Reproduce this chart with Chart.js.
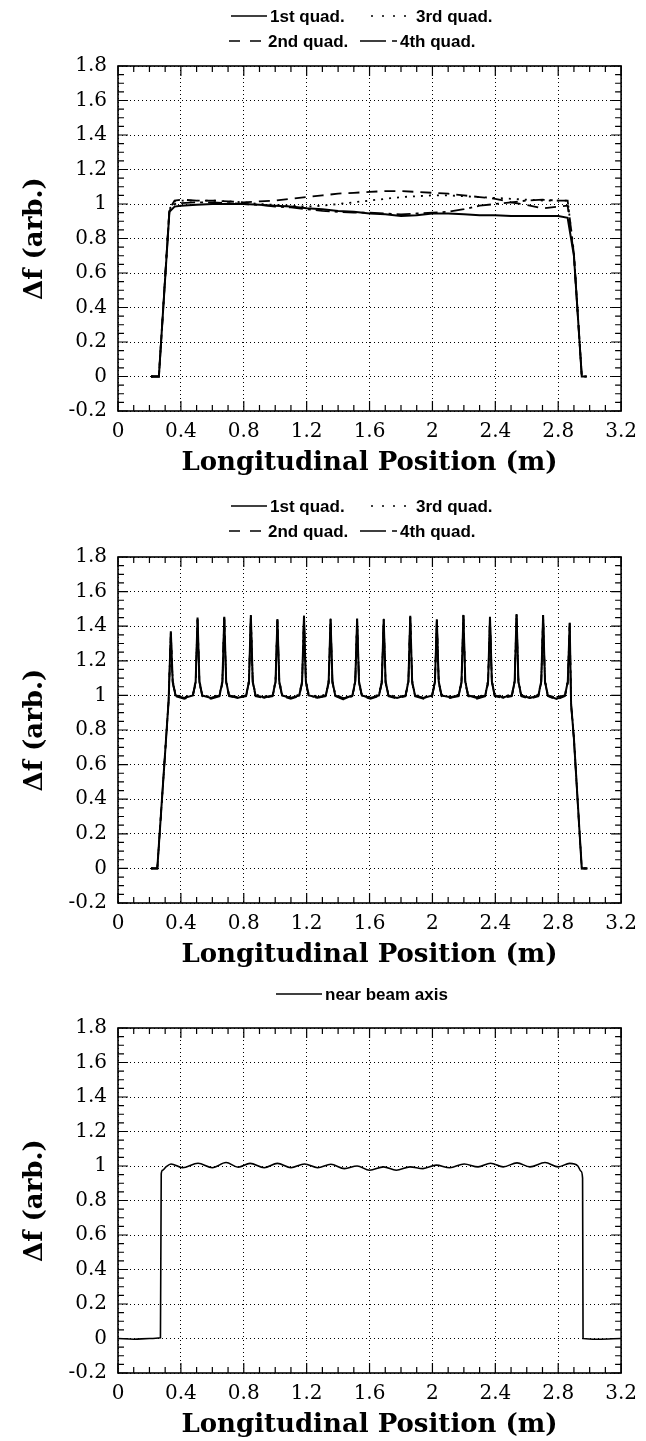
<!DOCTYPE html>
<html>
<head>
<meta charset="utf-8">
<script src="https://cdn.jsdelivr.net/npm/chart.js@4.4.1/dist/chart.umd.min.js"></script>
<style>
  html, body { margin: 0; padding: 0; background: #fff; }
  body { width: 646px; height: 1441px; position: relative; overflow: hidden; }
  .panel { position: absolute; left: 0; width: 646px; }
</style>
</head>
<body>
<div class="panel" style="top:0;height:490px"><canvas id="c1"></canvas></div>
<div class="panel" style="top:490px;height:482px"><canvas id="c2"></canvas></div>
<div class="panel" style="top:972px;height:469px"><canvas id="c3"></canvas></div>
<script>
const xTicks = [0, 0.4, 0.8, 1.2, 1.6, 2, 2.4, 2.8, 3.2];
const yTicks = [-0.2, 0, 0.2, 0.4, 0.6, 0.8, 1, 1.2, 1.4, 1.6, 1.8];

// top panel - four quadrants, smooth profile
const posTop = [0.21, 0.26, 0.327, 0.36, 0.4, 0.5, 0.6, 0.7, 0.8, 0.9, 1.0, 1.1, 1.2, 1.3, 1.4, 1.5,
  1.6, 1.7, 1.8, 1.9, 2.0, 2.1, 2.2, 2.3, 2.4, 2.5, 2.6, 2.7, 2.8, 2.86, 2.9, 2.95, 2.98];
const top1st = [0, 0, 0.955, 0.985, 0.99, 0.995, 1.0, 1.0, 1.0, 0.995, 0.99, 0.985, 0.975, 0.97, 0.96, 0.955,
  0.945, 0.94, 0.93, 0.935, 0.945, 0.945, 0.94, 0.935, 0.935, 0.93, 0.93, 0.93, 0.93, 0.92, 0.7, 0, 0];
const top2nd = [0, 0, 0.97, 1.02, 1.025, 1.02, 1.02, 1.015, 1.01, 1.015, 1.02, 1.03, 1.04, 1.05, 1.06, 1.065,
  1.07, 1.075, 1.075, 1.07, 1.065, 1.06, 1.05, 1.04, 1.03, 1.01, 0.995, 0.975, 0.985, 0.99, 0.7, 0, 0];
const top3rd = [0, 0, 0.97, 1.015, 1.02, 1.02, 1.02, 1.015, 1.01, 1.0, 0.995, 0.99, 0.985, 0.99, 1.0, 1.01,
  1.02, 1.03, 1.04, 1.045, 1.05, 1.05, 1.045, 1.04, 1.035, 1.03, 1.025, 1.02, 1.02, 1.02, 0.72, 0, 0];
const top4th = [0, 0, 0.96, 1.0, 1.005, 1.01, 1.01, 1.005, 1.0, 0.995, 0.985, 0.98, 0.97, 0.96, 0.955, 0.95,
  0.95, 0.945, 0.94, 0.945, 0.95, 0.955, 0.97, 0.99, 1.0, 1.01, 1.02, 1.025, 1.02, 1.02, 0.71, 0, 0];

// middle panel - peaked profile
const posMid = [0.21, 0.25, 0.322,
  0.336, 0.348, 0.366, 0.421,
  0.476, 0.494, 0.506, 0.518, 0.536, 0.591,
  0.646, 0.664, 0.676, 0.688, 0.706, 0.760,
  0.815, 0.833, 0.845, 0.857, 0.875, 0.930,
  0.984, 1.002, 1.014, 1.026, 1.044, 1.099,
  1.153, 1.171, 1.183, 1.195, 1.213, 1.268,
  1.322, 1.340, 1.352, 1.364, 1.382, 1.437,
  1.491, 1.509, 1.521, 1.533, 1.551, 1.606,
  1.660, 1.678, 1.690, 1.702, 1.720, 1.775,
  1.829, 1.847, 1.859, 1.871, 1.889, 1.944,
  1.998, 2.016, 2.028, 2.040, 2.058, 2.113,
  2.167, 2.185, 2.197, 2.209, 2.227, 2.282,
  2.336, 2.354, 2.366, 2.378, 2.396, 2.451,
  2.505, 2.523, 2.535, 2.547, 2.565, 2.620,
  2.674, 2.692, 2.704, 2.716, 2.734, 2.789,
  2.843, 2.861, 2.873, 2.882, 2.900, 2.935, 2.950, 2.985];
const mid1st = [0, 0, 0.97,
  1.37, 1.08, 1.0, 0.985,
  1.0, 1.08, 1.45, 1.08, 1.0, 0.985,
  1.0, 1.08, 1.455, 1.08, 1.0, 0.985,
  1.0, 1.08, 1.465, 1.08, 1.0, 0.99,
  1.0, 1.08, 1.44, 1.08, 1.0, 0.985,
  1.0, 1.08, 1.46, 1.08, 1.0, 0.99,
  1.0, 1.08, 1.44, 1.08, 1.0, 0.98,
  1.0, 1.08, 1.445, 1.08, 1.0, 0.985,
  1.0, 1.08, 1.44, 1.08, 1.0, 0.985,
  1.0, 1.08, 1.46, 1.08, 1.0, 0.985,
  1.0, 1.08, 1.44, 1.08, 1.0, 0.99,
  1.0, 1.08, 1.465, 1.08, 1.0, 0.985,
  1.0, 1.08, 1.455, 1.08, 1.0, 0.99,
  1.0, 1.08, 1.47, 1.08, 1.0, 0.985,
  1.0, 1.08, 1.465, 1.08, 1.0, 0.98,
  1.0, 1.08, 1.42, 0.95, 0.75, 0.22, 0, 0];
const mid2nd = [0, 0, 0.965,
  1.36, 1.07, 0.995, 0.98,
  0.995, 1.07, 1.44, 1.07, 0.995, 0.98,
  0.995, 1.07, 1.45, 1.07, 0.995, 0.985,
  0.995, 1.07, 1.46, 1.07, 0.995, 0.985,
  0.995, 1.07, 1.435, 1.07, 0.995, 0.98,
  0.995, 1.07, 1.455, 1.07, 0.995, 0.985,
  0.995, 1.07, 1.435, 1.07, 0.995, 0.975,
  0.995, 1.07, 1.44, 1.07, 0.995, 0.98,
  0.995, 1.07, 1.435, 1.07, 0.995, 0.98,
  0.995, 1.07, 1.455, 1.07, 0.995, 0.98,
  0.995, 1.07, 1.435, 1.07, 0.995, 0.985,
  0.995, 1.07, 1.46, 1.07, 0.995, 0.98,
  0.995, 1.07, 1.45, 1.07, 0.995, 0.985,
  0.995, 1.07, 1.465, 1.07, 0.995, 0.98,
  0.995, 1.07, 1.46, 1.07, 0.995, 0.975,
  0.995, 1.07, 1.41, 0.94, 0.74, 0.21, 0, 0];
const mid3rd = [0, 0, 0.975,
  1.375, 1.09, 1.005, 0.99,
  1.005, 1.09, 1.455, 1.09, 1.005, 0.99,
  1.005, 1.09, 1.46, 1.09, 1.005, 0.99,
  1.005, 1.09, 1.47, 1.09, 1.005, 0.995,
  1.005, 1.09, 1.445, 1.09, 1.005, 0.99,
  1.005, 1.09, 1.465, 1.09, 1.01, 0.995,
  1.005, 1.09, 1.445, 1.09, 1.005, 0.985,
  1.005, 1.09, 1.45, 1.09, 1.005, 0.99,
  1.005, 1.09, 1.445, 1.09, 1.005, 0.99,
  1.005, 1.09, 1.465, 1.09, 1.005, 0.99,
  1.005, 1.09, 1.445, 1.09, 1.005, 0.995,
  1.005, 1.09, 1.47, 1.09, 1.005, 0.99,
  1.005, 1.09, 1.46, 1.09, 1.005, 0.995,
  1.005, 1.09, 1.475, 1.09, 1.005, 0.99,
  1.005, 1.09, 1.47, 1.09, 1.005, 0.985,
  1.005, 1.09, 1.425, 0.96, 0.76, 0.23, 0, 0];
const mid4th = [0, 0, 0.97,
  1.365, 1.075, 1.0, 0.99,
  1.0, 1.075, 1.445, 1.075, 1.0, 0.985,
  1.0, 1.075, 1.45, 1.075, 1.0, 0.99,
  1.0, 1.075, 1.46, 1.075, 1.0, 0.985,
  1.0, 1.075, 1.44, 1.075, 1.0, 0.985,
  1.0, 1.075, 1.455, 1.075, 1.0, 0.985,
  1.0, 1.075, 1.44, 1.075, 1.0, 0.985,
  1.0, 1.075, 1.44, 1.075, 1.0, 0.985,
  1.0, 1.075, 1.44, 1.075, 1.0, 0.985,
  1.0, 1.075, 1.455, 1.075, 1.0, 0.985,
  1.0, 1.075, 1.44, 1.075, 1.0, 0.985,
  1.0, 1.075, 1.46, 1.075, 1.0, 0.99,
  1.0, 1.075, 1.45, 1.075, 1.0, 0.985,
  1.0, 1.075, 1.465, 1.075, 1.0, 0.985,
  1.0, 1.075, 1.46, 1.075, 1.0, 0.99,
  1.0, 1.075, 1.415, 0.95, 0.75, 0.22, 0, 0];

// bottom panel - near beam axis
const posBot = [0, 0.1, 0.2, 0.27, 0.275, 0.283, 0.305, 0.337, 0.41, 0.509, 0.60, 0.687, 0.765, 0.840, 0.93,
  1.014, 1.10, 1.186, 1.27, 1.354, 1.44, 1.521, 1.60, 1.689, 1.77, 1.857, 1.94, 2.024, 2.11, 2.202,
  2.29, 2.370, 2.45, 2.538, 2.62, 2.716, 2.80, 2.873, 2.925, 2.945, 2.955, 2.958, 3.05, 3.2];
const botAxis = [0, -0.004, 0, 0.004, 0.955, 0.975, 0.995, 1.012, 0.99, 1.016, 0.99, 1.02, 0.993, 1.015, 0.99,
  1.015, 0.99, 1.012, 0.99, 1.01, 0.985, 1.0, 0.975, 0.995, 0.975, 0.995, 0.985, 1.005, 0.99, 1.012,
  0.995, 1.016, 0.995, 1.018, 0.995, 1.02, 0.995, 1.015, 1.0, 0.97, 0.93, 0, -0.004, 0];

const SOLID = [], DASHED = [11, 7], DOTTED = [2, 6], DASHDOT = [14, 5, 3, 5];

Chart.defaults.font.family = '"DejaVu Serif", serif';
Chart.defaults.color = '#000';

function pts(xs, ys) {
  return xs.map((x, i) => ({ x: x, y: ys[i] }));
}

// box with inward ticks on all four sides
const framePlugin = {
  id: 'frame',
  afterDraw(chart) {
    const { ctx, chartArea: a } = chart;
    const x = chart.scales.x, y = chart.scales.y;
    ctx.save();
    ctx.strokeStyle = '#000';
    ctx.setLineDash([]);
    ctx.lineWidth = 1.2;
    ctx.beginPath();
    for (let i = 0; i <= 32; i++) {
      const px = x.getPixelForValue(i / 10);
      const len = i % 4 === 0 ? 10 : 6;
      ctx.moveTo(px, a.bottom); ctx.lineTo(px, a.bottom - len);
      ctx.moveTo(px, a.top); ctx.lineTo(px, a.top + len);
    }
    for (let j = -4; j <= 36; j++) {
      const py = y.getPixelForValue(j / 20);
      const len = j % 4 === 0 ? 10 : 6;
      ctx.moveTo(a.left, py); ctx.lineTo(a.left + len, py);
      ctx.moveTo(a.right, py); ctx.lineTo(a.right - len, py);
    }
    ctx.stroke();
    ctx.lineWidth = 1.6;
    ctx.strokeRect(a.left, a.top, a.right - a.left, a.bottom - a.top);
    ctx.restore();
  }
};

// legend drawn as line samples with labels
const keyPlugin = {
  id: 'quadKey',
  afterDraw(chart, args, opts) {
    const ctx = chart.ctx;
    ctx.save();
    ctx.font = 'bold 17px "Liberation Sans", Arial, sans-serif';
    ctx.fillStyle = '#000';
    ctx.strokeStyle = '#000';
    ctx.textBaseline = 'middle';
    (opts.items || []).forEach(it => {
      ctx.setLineDash(it.dash);
      ctx.lineWidth = 1.3;
      ctx.beginPath();
      ctx.moveTo(it.x, it.y);
      ctx.lineTo(it.x + it.w, it.y);
      ctx.stroke();
      ctx.fillText(it.text, it.x + it.w + 3, it.y + 1);
    });
    ctx.restore();
  }
};

function makePanel(id, padTop, axisH, titlePad, datasets, keyItems) {
  return new Chart(document.getElementById(id), {
    type: 'line',
    data: { datasets: datasets },
    options: {
      responsive: true,
      maintainAspectRatio: false,
      animation: false,
      devicePixelRatio: 1,
      layout: { padding: { top: padTop, right: 19, left: 0, bottom: 0 } },
      elements: { point: { radius: 0 } },
      plugins: {
        legend: { display: false },
        tooltip: { enabled: false },
        quadKey: { items: keyItems }
      },
      scales: {
        x: {
          type: 'linear',
          min: 0, max: 3.2,
          afterBuildTicks: s => { s.ticks = xTicks.map(v => ({ value: v })); },
          afterFit: s => { s.height = axisH; },
          grid: { color: '#000', lineWidth: 1, drawTicks: false },
          border: { display: false, dash: [1, 3] },
          ticks: { padding: 9, font: { size: 20 }, color: '#000', maxRotation: 0, callback: v => String(v) },
          title: {
            display: true, text: 'Longitudinal Position (m)', color: '#000',
            font: { size: 26, weight: 'bold' }, padding: { top: 0, bottom: titlePad }
          }
        },
        y: {
          min: -0.2, max: 1.8,
          afterBuildTicks: s => { s.ticks = yTicks.map(v => ({ value: v })); },
          afterFit: s => { s.width = 118; },
          grid: { color: '#000', lineWidth: 1, drawTicks: false },
          border: { display: false, dash: [1, 3] },
          ticks: { padding: 11, font: { size: 20 }, color: '#000', callback: v => String(v) },
          title: {
            display: true, text: 'Δf (arb.)', color: '#000',
            font: { size: 26, weight: 'bold' }, padding: { top: 20, bottom: 0 }
          }
        }
      }
    },
    plugins: [framePlugin, keyPlugin]
  });
}

function line(data, dash, width, extra) {
  return Object.assign({
    data: data, borderColor: '#000', borderWidth: width, borderDash: dash,
    fill: false, tension: 0, pointRadius: 0
  }, extra || {});
}

const quadKey = [
  { x: 231, y: 16, w: 36, dash: SOLID, text: '1st quad.' },
  { x: 371, y: 16, w: 42, dash: [2, 9], text: '3rd quad.' },
  { x: 229, y: 41, w: 36, dash: [11, 10], text: '2nd quad.' },
  { x: 360, y: 41, w: 37, dash: [26, 6, 5, 20], text: '4th quad.' }
];

makePanel('c1', 66, 79, 11, [
  line(pts(posTop, top1st), SOLID, 2),
  line(pts(posTop, top2nd), DASHED, 1.8),
  line(pts(posTop, top3rd), DOTTED, 1.8),
  line(pts(posTop, top4th), DASHDOT, 1.8)
], quadKey);

makePanel('c2', 67, 69, 1, [
  line(pts(posMid, mid1st), SOLID, 2),
  line(pts(posMid, mid2nd), DASHED, 1.6),
  line(pts(posMid, mid3rd), DOTTED, 1.6),
  line(pts(posMid, mid4th), DASHDOT, 1.6)
], quadKey);

makePanel('c3', 56, 68, 0, [
  line(pts(posBot, botAxis), SOLID, 1.6, { cubicInterpolationMode: 'monotone' })
], [
  { x: 276, y: 22, w: 46, dash: SOLID, text: 'near beam axis' }
]);
</script>
</body>
</html>
